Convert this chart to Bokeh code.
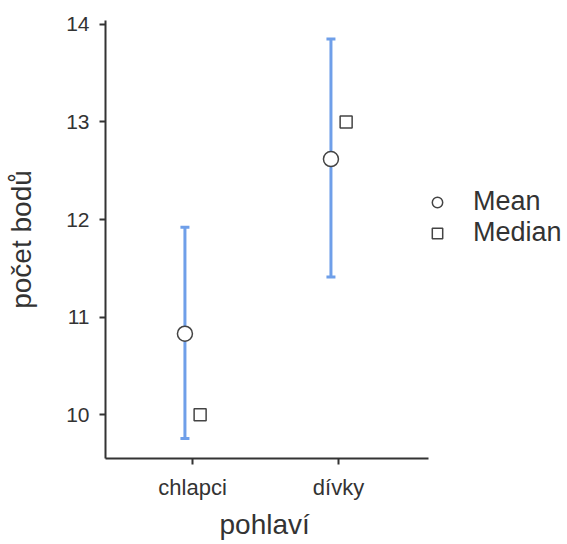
from bokeh.plotting import figure
from bokeh.models import ColumnDataSource, Whisker, TeeHead, Legend, LegendItem, FixedTicker, Title
from bokeh.embed import file_html
from bokeh.resources import INLINE

# data
categories = ["chlapci", "dívky"]
means = [10.83, 12.62]
medians = [10.0, 13.0]
ci_lower = [9.755, 11.41]
ci_upper = [11.92, 13.85]
x_title = "pohlaví"
y_title = "počet bodů"

FONT = "Liberation Sans"
TXT = "#333333"
BLUE = "#6f9fe9"

pos = [1, 2]
dodge = 0.052
src = ColumnDataSource(dict(
    xm=[p_ - dodge for p_ in pos],
    xd=[p_ + dodge for p_ in pos],
    mean=means, median=medians, lo=ci_lower, hi=ci_upper,
))

p = figure(width=567, height=544, output_backend="svg", toolbar_location=None,
           x_range=(0.404, 3.568), y_range=(9.551, 14.04),
           min_border_left=105, min_border_right=0, min_border_top=20, min_border_bottom=0)
p.outline_line_color = None
p.grid.grid_line_color = None
p.background_fill_color = "white"
p.border_fill_color = "white"

w = Whisker(source=src, base="xm", upper="hi", lower="lo", line_color=BLUE, line_width=3,
            upper_head=TeeHead(size=9, line_color=BLUE, line_width=3),
            lower_head=TeeHead(size=9, line_color=BLUE, line_width=3))
p.add_layout(w)

r_mean = p.scatter("xm", "mean", source=src, marker="circle", size=15, fill_color="white",
                   line_color="#444444", line_width=1.5)
r_med = p.scatter("xd", "median", source=src, marker="square", size=12, fill_color="white",
                  line_color="#444444", line_width=1.5)

for ax in (p.xaxis[0], p.yaxis[0]):
    ax.axis_line_color = TXT
    ax.axis_line_width = 2
    ax.major_tick_line_color = TXT
    ax.major_tick_line_width = 2
    ax.major_tick_out = 6
    ax.major_tick_in = 0
    ax.minor_tick_line_color = None
    ax.major_label_text_font = FONT
    ax.major_label_text_color = TXT
    ax.axis_label_text_font = FONT
    ax.axis_label_text_color = TXT
    ax.axis_label_text_font_style = "normal"

p.xaxis.ticker = FixedTicker(ticks=pos)
p.xaxis.bounds = (0.404, 2.616)
p.xaxis.major_label_overrides = {1: categories[0], 2: categories[1]}
p.xaxis.major_label_text_font_size = "22px"
p.xaxis.major_label_standoff = 10

xt = Title(text=x_title, align="left", offset=114, text_font=FONT, text_font_size="28px",
           text_font_style="normal", text_color=TXT, standoff=9)
p.add_layout(xt, "below")

p.yaxis.ticker = FixedTicker(ticks=[10, 11, 12, 13, 14])
p.yaxis.major_label_text_font_size = "21px"
p.yaxis.axis_label = y_title
p.yaxis.axis_label_text_font_size = "28px"
p.yaxis.major_label_standoff = 10
p.yaxis.axis_label_standoff = 26

legend = Legend(items=[LegendItem(label="Mean", renderers=[r_mean]),
                       LegendItem(label="Median", renderers=[r_med])],
                location=(319, 210), border_line_color=None, background_fill_alpha=0,
                label_text_font=FONT, label_text_font_size="27px", label_text_color=TXT,
                glyph_width=26, glyph_height=26, label_standoff=23, spacing=-3,
                padding=0, margin=0, label_height=20)
p.add_layout(legend, "center")

open("out.html", "w").write(file_html(p, INLINE))
